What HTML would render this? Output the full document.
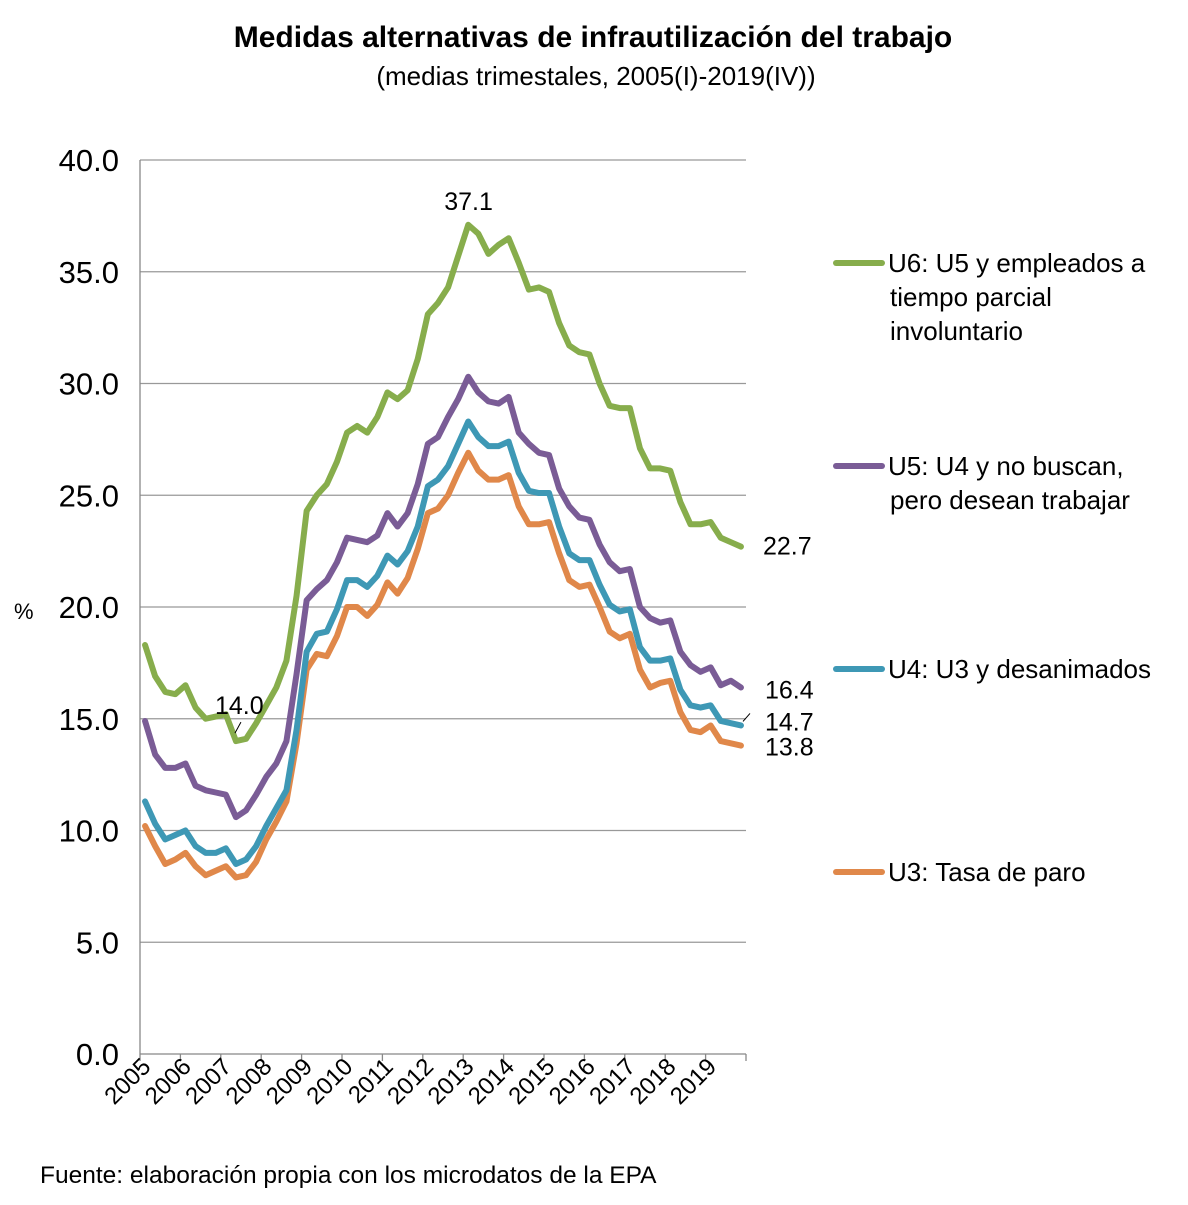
<!DOCTYPE html>
<html><head><meta charset="utf-8"><style>
body{margin:0;background:#fff;}
svg text{font-family:"Liberation Sans",sans-serif;fill:#000;}
</style></head><body>
<svg id="chart" width="1188" height="1200" xmlns="http://www.w3.org/2000/svg">
<text x="593" y="47" text-anchor="middle" font-size="30" font-weight="bold">Medidas alternativas de infrautilización del trabajo</text>
<text x="596" y="85" text-anchor="middle" font-size="26">(medias trimestales, 2005(I)-2019(IV))</text>
<text x="14" y="619" font-size="22">%</text>
<g id="grid"></g><g id="yt"></g><g id="xt"></g><g id="lines"></g><g id="ann"></g><g id="legend"></g>
<text x="40" y="1183" font-size="24.5">Fuente: elaboración propia con los microdatos de la EPA</text>
</svg>
<script>
const years=["2005","2006","2007","2008","2009","2010","2011","2012","2013","2014","2015","2016","2017","2018","2019"];
const yTicks=[0,5,10,15,20,25,30,35,40];
const u6=[18.3,16.9,16.2,16.1,16.5,15.5,15.0,15.1,15.2,14.0,14.1,14.8,15.6,16.4,17.6,20.5,24.3,25.0,25.5,26.5,27.8,28.1,27.8,28.5,29.6,29.3,29.7,31.1,33.1,33.6,34.3,35.7,37.1,36.7,35.8,36.2,36.5,35.4,34.2,34.3,34.1,32.7,31.7,31.4,31.3,30.0,29.0,28.9,28.9,27.1,26.2,26.2,26.1,24.7,23.7,23.7,23.8,23.1,22.9,22.7];
const u5=[14.9,13.4,12.8,12.8,13.0,12.0,11.8,11.7,11.6,10.6,10.9,11.6,12.4,13.0,14.0,17.0,20.3,20.8,21.2,22.0,23.1,23.0,22.9,23.2,24.2,23.6,24.2,25.5,27.3,27.6,28.5,29.3,30.3,29.6,29.2,29.1,29.4,27.8,27.3,26.9,26.8,25.3,24.5,24.0,23.9,22.8,22.0,21.6,21.7,20.0,19.5,19.3,19.4,18.0,17.4,17.1,17.3,16.5,16.7,16.4];
const u4=[11.3,10.3,9.6,9.8,10.0,9.3,9.0,9.0,9.2,8.5,8.7,9.3,10.2,11.0,11.8,14.5,18.0,18.8,18.9,19.9,21.2,21.2,20.9,21.4,22.3,21.9,22.5,23.6,25.4,25.7,26.3,27.3,28.3,27.6,27.2,27.2,27.4,26.0,25.2,25.1,25.1,23.6,22.4,22.1,22.1,21.0,20.1,19.8,19.9,18.2,17.6,17.6,17.7,16.3,15.6,15.5,15.6,14.9,14.8,14.7];
const u3=[10.2,9.3,8.5,8.7,9.0,8.4,8.0,8.2,8.4,7.9,8.0,8.6,9.6,10.4,11.3,13.9,17.2,17.9,17.8,18.7,20.0,20.0,19.6,20.1,21.1,20.6,21.3,22.6,24.2,24.4,25.0,26.0,26.9,26.1,25.7,25.7,25.9,24.5,23.7,23.7,23.8,22.4,21.2,20.9,21.0,20.0,18.9,18.6,18.8,17.2,16.4,16.6,16.7,15.3,14.5,14.4,14.7,14.0,13.9,13.8];
const seriesNames=["U3: Tasa de paro","U4:  U3 y desanimados","U5: U4 y no buscan,|pero desean trabajar","U6: U5 y empleados a|tiempo parcial|involuntario"];
const NS="http://www.w3.org/2000/svg";
const X0=140,X1=746,Y0=1054,Y1=160;
const n=u6.length;
function xs(i){return X0+(i+0.5)*(X1-X0)/n;}
function ys(v){return Y0-(v/40)*(Y0-Y1);}
function mk(t,a,p){const e=document.createElementNS(NS,t);for(const k in a)e.setAttribute(k,a[k]);p.appendChild(e);return e;}
const grid=document.getElementById('grid'),yt=document.getElementById('yt'),xt=document.getElementById('xt');
yTicks.forEach(v=>{
 const l=mk('line',{x1:X0,x2:X1,y1:ys(v),y2:ys(v),stroke:v===0?'#888':'#999','stroke-width':1.3},grid);
 
 
 const t=mk('text',{x:119,y:ys(v)+11,'text-anchor':'end','font-size':31},yt);
 t.textContent=v.toFixed(1);
 
 
});
mk('line',{x1:X0,x2:X0,y1:Y1,y2:Y0,stroke:'#888','stroke-width':1.3},grid);
years.forEach((y,k)=>{
 const tx=X0+k*4*(X1-X0)/n;
 const tk=mk('line',{x1:tx,x2:tx,y1:Y0,y2:Y0+7,stroke:'#888','stroke-width':1.3},xt);
 
 
 const cx=xs(k*4)+7;
 const t=mk('text',{x:cx,y:Y0+14,'text-anchor':'end','font-size':24,transform:`rotate(-45 ${cx} ${Y0+14})`},xt);
 t.textContent=y;
 
 
});
mk('line',{x1:X1,x2:X1,y1:Y0,y2:Y0+7,stroke:'#888','stroke-width':1.3},xt);
const cols=["#e0884a","#3e98b5","#7a5c96","#87ad4c"];
const data=[u3,u4,u5,u6];
const names=["series-u3","series-u4","series-u5","series-u6"];
const lines=document.getElementById('lines');
data.forEach((d,s)=>{
 const p=mk('polyline',{points:d.map((v,i)=>xs(i)+','+ys(v)).join(' '),fill:'none',stroke:cols[s],'stroke-width':6,'stroke-linejoin':'round','stroke-linecap':'round'},lines);
 
 
});
const ann=document.getElementById('ann');
function lab(txt,x,y){const t=mk('text',{x:x,y:y,'font-size':25},ann);t.textContent=txt;
 
 }
lab(u6[32].toFixed(1),xs(32)-24,ys(u6[32])-15);
lab(u6[9].toFixed(1),xs(9)-21,ys(u6[9])-27);
mk('line',{x1:xs(9)+5,y1:ys(u6[9])-19,x2:xs(9)-1,y2:ys(u6[9])-8,stroke:'#000','stroke-width':1},ann);
lab(u6[59].toFixed(1),763,ys(u6[59])+8);
lab(u5[59].toFixed(1),765,ys(u5[59])+11);
lab(u4[59].toFixed(1),765,ys(u4[59])+5);
mk('line',{x1:743,y1:ys(u4[59])-4,x2:750,y2:ys(u4[59])-12,stroke:'#000','stroke-width':1},ann);
lab(u3[59].toFixed(1),765,ys(u3[59])+10);
const lg=document.getElementById('legend');
const legY=[872,669,466,263];
seriesNames.forEach((nm,s)=>{
 const l=mk('line',{x1:836,x2:882,y1:legY[s],y2:legY[s],stroke:cols[s],'stroke-width':6,'stroke-linecap':'round'},lg);
 
 
 nm.split('|').forEach((ln,j)=>{
  const t=mk('text',{x:j===0?888:890,y:legY[s]+9+j*34,'font-size':26},lg);
  t.textContent=ln;
  
  
 });
});
</script>
</body></html>
